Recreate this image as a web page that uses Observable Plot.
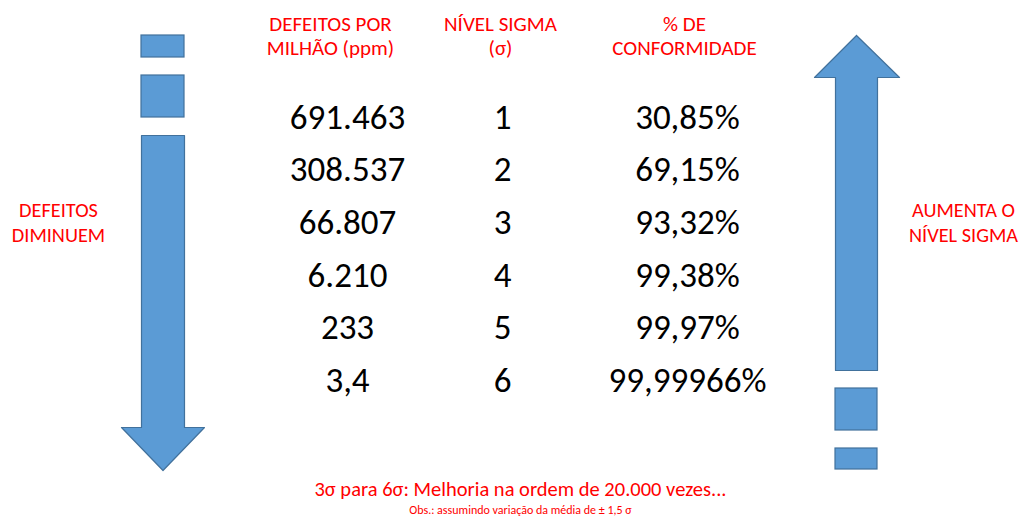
<!DOCTYPE html>
<html><head><meta charset="utf-8">
<script src="https://cdn.jsdelivr.net/npm/d3@7"></script>
<script src="https://cdn.jsdelivr.net/npm/@observablehq/plot@0.6"></script>
<style>
html,body{margin:0;padding:0;background:#fff;}
svg{font-family:Carlito,Calibri,Lato,sans-serif;}
</style></head><body>
<div id="chart"></div>
<script>
// data
const ppm = ["691.463","308.537","66.807","6.210","233","3,4"];
const sigma = ["1","2","3","4","5","6"];
const conformidade = ["30,85%","69,15%","93,32%","99,38%","99,97%","99,99966%"];
const headers = [["DEFEITOS POR","MILHÃO (ppm)"],["NÍVEL SIGMA","(σ)"],["% DE","CONFORMIDADE"]];
const leftLabel = ["DEFEITOS","DIMINUEM"];
const rightLabel = ["AUMENTA O","NÍVEL SIGMA"];
const note = "3σ para 6σ: Melhoria na ordem de 20.000 vezes...";
const obs = "Obs.: assumindo variação da média de ± 1,5 σ";

// layout (pixels)
const W = 1022, H = 517;
const colX = [347, 502, 687];
const headX = [330, 500, 684];
const rowY0 = 117, rowStep = 52.6;
const red = "#ff0000", fill = "#5b9bd5", stroke = "#41719c";

const cells = [];
[ppm, sigma, conformidade].forEach((col, c) => col.forEach((t, r) => cells.push({x: colX[c], y: rowY0 + r*rowStep, t})));
const heads = [];
headers.forEach((h, c) => h.forEach((t, l) => heads.push({x: headX[c], y: 24 + l*24, t})));
const sides = [];
leftLabel.forEach((t,l)=>sides.push({x:58,y:210+l*25,t}));
rightLabel.forEach((t,l)=>sides.push({x:963,y:210+l*25,t}));

const downArrow = [[141,135],[184,135],[184,427],[204,427],[162.5,470],[121,427],[141,427],[141,135]].map(([x,y])=>({x,y}));
const upArrow = [[856,35],[899,77],[877,77],[877,370],[835,370],[835,77],[814,77],[856,35]].map(([x,y])=>({x,y}));
const blocks = [
  {x1:141,x2:184,y1:35,y2:57},{x1:141,x2:184,y1:75,y2:117},
  {x1:835,x2:877,y1:388,y2:430},{x1:835,x2:877,y1:448,y2:469}
];

const plot = Plot.plot({
  width: W, height: H,
  margin: 0,
  x: {type: "linear", domain: [0, W], range: [0, W], axis: null},
  y: {type: "linear", domain: [0, H], range: [0, H], axis: null},
  marks: [
    Plot.rect(blocks, {x1:"x1",x2:"x2",y1:"y1",y2:"y2",fill,stroke,strokeWidth:1.2}),
    Plot.line(downArrow, {x:"x",y:"y",fill,stroke,strokeWidth:1.2,curve:"linear"}),
    Plot.line(upArrow, {x:"x",y:"y",fill,stroke,strokeWidth:1.2,curve:"linear"}),
    Plot.text(heads, {x:"x",y:"y",text:"t",fill:red,fontSize:21}),
    Plot.text(cells, {x:"x",y:"y",text:"t",fill:"#000",fontSize:35}),
    Plot.text(sides, {x:"x",y:"y",text:"t",fill:red,fontSize:20.3}),
    Plot.text([note], {x:()=>520,y:()=>488.5,text:d=>d,fill:red,fontSize:20.5}),
    Plot.text([obs], {x:()=>520,y:()=>509.5,text:d=>d,fill:red,fontSize:12})
  ]
});
document.getElementById("chart").appendChild(plot);
</script>
</body></html>
